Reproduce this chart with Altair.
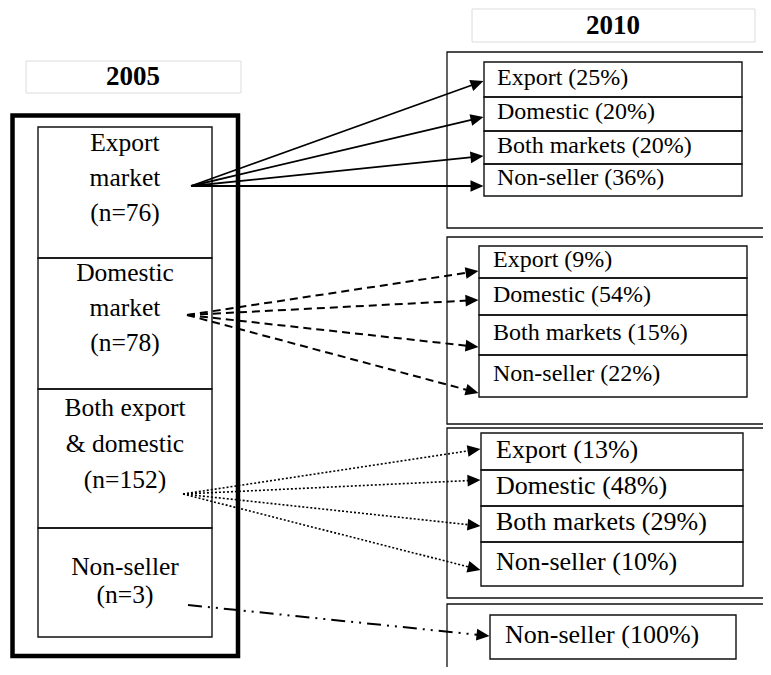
import math
import altair as alt
import pandas as pd

# ---------------- data ----------------
year_from = "2005"
year_to = "2010"
origin_names = [["Export", "market"], ["Domestic", "market"], ["Both export", "& domestic"], ["Non-seller"]]
origin_n = [76, 78, 152, 3]
dest_categories = ["Export", "Domestic", "Both markets", "Non-seller"]
pct_from_export = [25, 20, 20, 36]
pct_from_domestic = [9, 54, 15, 22]
pct_from_both = [13, 48, 29, 10]
dest_nonseller_only = ["Non-seller"]
pct_from_nonseller = [100]

# ---------------- layout (page pixels) ----------------
W, H = 755, 659
OX, OY = 8, 8
FONT = "'Liberation Serif', 'DejaVu Serif', serif"

left_col_x = (38, 212)
left_cells = [127, 258, 389, 528, 637]
left_text_first = [143, 273, 408, 567]
left_text_gap = [35, 35, 36, 28]
left_text_x = 125

groups = [
    dict(cats=dest_categories, pct=pct_from_export, outer=(52, 228), inner=(484, 742),
         rows=[62, 97, 131, 164, 196], tx=497, fs=24, origin=(191, 186),
         tips=[81, 117, 156, 186], dash=None, sw=1.8),
    dict(cats=dest_categories, pct=pct_from_domestic, outer=(237, 424), inner=(479, 747),
         rows=[246, 278, 315, 355, 397], tx=493, fs=24, origin=(187, 315),
         tips=[271, 300, 347, 393], dash=[8, 5], sw=2),
    dict(cats=dest_categories, pct=pct_from_both, outer=(428, 598), inner=(481, 743),
         rows=[433, 470, 506, 542, 586], tx=496, fs=26, origin=(183, 494),
         tips=[449, 480, 526, 570], dash=[2, 2], sw=1.6),
    dict(cats=dest_nonseller_only, pct=pct_from_nonseller, outer=(604, 720), inner=(490, 736),
         rows=[615, 659], tx=505, fs=26, origin=(188, 605),
         tips=[636], dash=[14, 6, 2, 6, 2, 6], sw=2),
]

xs = alt.Scale(domain=[OX, OX + W])
ys = alt.Scale(domain=[OY, OY + H], reverse=True)


def enc_rect():
    return dict(x=alt.X("x:Q", scale=xs, axis=None), x2="x2:Q",
                y=alt.Y("y:Q", scale=ys, axis=None), y2="y2:Q")


# boxes
thin_boxes, thick_boxes, header_boxes = [], [], []
header_boxes.append(dict(x=26, x2=241, y=61, y2=93))
header_boxes.append(dict(x=472, x2=755, y=9, y2=42))
thick_boxes.append(dict(x=12.5, x2=238, y=115.5, y2=656))
for i in range(len(left_cells) - 1):
    thin_boxes.append(dict(x=left_col_x[0], x2=left_col_x[1], y=left_cells[i], y2=left_cells[i + 1]))
outer_boxes = []
for g in groups:
    outer_boxes.append(dict(x=447, x2=800, y=g["outer"][0], y2=g["outer"][1]))
    for i in range(len(g["rows"]) - 1):
        thin_boxes.append(dict(x=g["inner"][0], x2=g["inner"][1], y=g["rows"][i], y2=g["rows"][i + 1]))

layers = []
layers.append(alt.Chart(pd.DataFrame(header_boxes)).mark_rect(filled=False, color="#dcdcdc", strokeWidth=1).encode(**enc_rect()))
layers.append(alt.Chart(pd.DataFrame(outer_boxes)).mark_rect(filled=False, color="#111", strokeWidth=1.3).encode(**enc_rect()))
layers.append(alt.Chart(pd.DataFrame(thick_boxes)).mark_rect(filled=False, color="#000", strokeWidth=4.5).encode(**enc_rect()))
layers.append(alt.Chart(pd.DataFrame(thin_boxes)).mark_rect(filled=False, color="#111", strokeWidth=1.4).encode(**enc_rect()))

# arrows
heads = []
for g in groups:
    ox, oy = g["origin"]
    tipx = g["inner"][0] - 0.5
    segs = []
    for ty in g["tips"]:
        dx, dy = tipx - ox, ty - oy
        L = math.hypot(dx, dy)
        ex, ey = tipx - dx / L * 6, ty - dy / L * 6
        segs.append(dict(x=ox, y=oy, x2=ex, y2=ey))
        heads.append(dict(x=tipx, y=ty, ang=(math.degrees(math.atan2(dy, dx)) + 360) % 360))
    mk = dict(color="black", strokeWidth=g["sw"])
    if g["dash"]:
        mk["strokeDash"] = g["dash"]
    layers.append(alt.Chart(pd.DataFrame(segs)).mark_rule(**mk).encode(
        x=alt.X("x:Q", scale=xs, axis=None), x2="x2:Q",
        y=alt.Y("y:Q", scale=ys, axis=None), y2="y2:Q"))

layers.append(alt.Chart(pd.DataFrame(heads)).mark_point(
    shape="M0,0 L-1,-0.45 L-1,0.45 Z", filled=True, color="black", opacity=1, size=676).encode(
    x=alt.X("x:Q", scale=xs, axis=None), y=alt.Y("y:Q", scale=ys, axis=None),
    angle=alt.Angle("ang:Q", scale=None)))

# texts
left_texts = []
for i, (names, n) in enumerate(zip(origin_names, origin_n)):
    lines = names + [f"(n={n})"]
    for j, t in enumerate(lines):
        left_texts.append(dict(x=left_text_x, y=left_text_first[i] + j * left_text_gap[i], t=t))
layers.append(alt.Chart(pd.DataFrame(left_texts)).mark_text(
    font=FONT, fontSize=25.5, align="center", baseline="middle", color="black").encode(
    x=alt.X("x:Q", scale=xs, axis=None), y=alt.Y("y:Q", scale=ys, axis=None), text="t:N"))

right_texts = []
for g in groups:
    for i, (c, p) in enumerate(zip(g["cats"], g["pct"])):
        cy = (g["rows"][i] + g["rows"][i + 1]) / 2 - 2
        right_texts.append(dict(x=g["tx"], y=cy, t=f"{c} ({p}%)", fs=g["fs"]))
layers.append(alt.Chart(pd.DataFrame(right_texts)).mark_text(
    font=FONT, align="left", baseline="middle", color="black").encode(
    x=alt.X("x:Q", scale=xs, axis=None), y=alt.Y("y:Q", scale=ys, axis=None), text="t:N",
    size=alt.Size("fs:Q", scale=None)))

headers = [dict(x=133, y=77, t=year_from), dict(x=613, y=26, t=year_to)]
layers.append(alt.Chart(pd.DataFrame(headers)).mark_text(
    font=FONT, fontSize=27, fontWeight="bold", align="center", baseline="middle", color="black").encode(
    x=alt.X("x:Q", scale=xs, axis=None), y=alt.Y("y:Q", scale=ys, axis=None), text="t:N"))

chart = alt.layer(*layers).properties(
    width=W, height=H, padding=0, autosize="none", background="white"
).configure_view(stroke=None)

chart.save("out.html", embed_options={"renderer": "svg", "actions": False})
